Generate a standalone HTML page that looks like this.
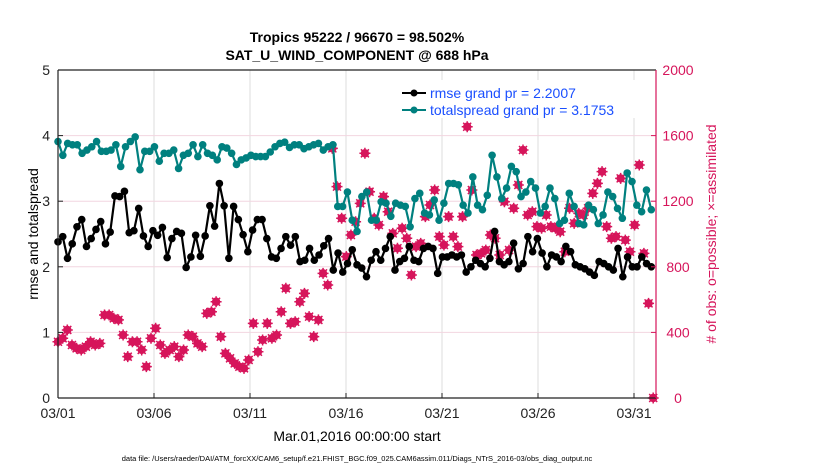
<!DOCTYPE html>
<html><head><meta charset="utf-8"><style>
body{margin:0;background:#fff;}
svg{font-family:"Liberation Sans",sans-serif;}
</style></head><body>
<svg id="chart" width="830" height="470" viewBox="0 0 830 470">
<g id="grid"></g>
<g id="marks"></g>
<g id="axes"></g>
<text x="357" y="42" text-anchor="middle" font-size="14" font-weight="bold">Tropics 95222 / 96670 = 98.502%</text>
<text x="357" y="60" text-anchor="middle" font-size="14" font-weight="bold">SAT_U_WIND_COMPONENT @ 688 hPa</text>
<text transform="translate(38,234) rotate(-90)" text-anchor="middle" font-size="14">rmse and totalspread</text>
<text transform="translate(716,234) rotate(-90)" text-anchor="middle" font-size="14" fill="#d6155b"># of obs: o=possible; ×=assimilated</text>
<text x="357" y="441" text-anchor="middle" font-size="14">Mar.01,2016 00:00:00 start</text>
<text x="357" y="461" text-anchor="middle" font-size="7.5">data file: /Users/raeder/DAI/ATM_forcXX/CAM6_setup/f.e21.FHIST_BGC.f09_025.CAM6assim.011/Diags_NTrS_2016-03/obs_diag_output.nc</text>
<g>
<rect x="392" y="80" width="256" height="38" fill="#fff"/>
<g><line x1="402" y1="93" x2="426" y2="93" stroke="#000" stroke-width="2"/><circle cx="414" cy="93" r="3.5" fill="#000"/><text x="430" y="98" font-size="14" fill="#1a4fff">rmse grand pr = 2.2007</text></g>
<g><line x1="402" y1="110" x2="426" y2="110" stroke="#00807f" stroke-width="2"/><circle cx="414" cy="110" r="3.5" fill="#00807f"/><text x="430" y="115" font-size="14" fill="#1a4fff">totalspread grand pr = 3.1753</text></g>
</g>
</svg>
<script>
const rmse=[2.38,2.46,2.13,2.35,2.61,2.72,2.31,2.43,2.57,2.69,2.35,2.53,3.08,3.07,3.15,2.52,2.55,2.89,2.47,2.31,2.55,2.48,2.60,2.14,2.43,2.54,2.51,1.99,2.15,2.48,2.16,2.47,2.93,2.62,3.27,2.93,2.13,2.92,2.72,2.49,2.23,2.56,2.72,2.72,
2.43,2.15,2.13,2.28,2.46,2.33,2.46,2.08,2.10,2.28,2.10,2.18,2.32,2.43,1.95,2.21,1.92,2.05,2.26,2.03,1.98,1.85,2.10,2.23,2.10,2.28,2.46,1.95,2.08,2.13,2.31,2.10,2.08,2.28,2.31,2.28,1.90,2.15,2.15,2.18,
2.15,2.18,1.92,2.00,2.10,2.05,2.00,2.13,2.54,2.08,2.03,2.08,2.36,1.97,2.05,2.46,2.23,2.43,2.21,2.00,2.18,2.15,2.08,2.31,2.23,2.03,2.00,1.97,1.92,1.87,2.08,2.05,2.00,1.95,2.28,1.85,2.15,2.00,2.00,2.15,2.05,2.00];
const spread=[3.91,3.70,3.88,3.86,3.86,3.73,3.78,3.83,3.91,3.76,3.76,3.78,3.86,3.53,3.83,3.91,3.98,3.48,3.76,3.76,3.83,3.61,3.73,3.73,3.78,3.50,3.70,3.73,3.86,3.68,3.86,3.73,3.70,3.63,3.83,3.81,3.73,3.56,3.63,3.66,3.70,3.68,3.68,3.68,
3.75,3.83,3.88,3.90,3.82,3.86,3.86,3.80,3.83,3.86,3.88,3.78,3.83,3.86,
2.92,2.92,3.14,2.71,2.54,3.07,3.14,2.71,2.71,2.99,2.97,2.77,2.97,2.94,2.92,2.61,3.04,3.12,2.82,2.79,3.02,2.71,2.97,3.27,
3.27,3.25,2.94,2.82,3.37,2.94,2.87,3.09,3.70,3.37,3.04,3.20,3.53,3.45,3.07,3.14,3.30,3.20,2.82,2.92,3.20,3.04,2.66,2.71,3.12,2.92,2.66,2.64,2.94,2.87,2.66,2.79,3.14,3.07,2.89,2.74,3.43,3.30,2.94,2.84,3.17,2.87];
const obs=[343,364,415,323,303,293,313,343,323,333,506,506,486,476,384,252,343,343,293,191,364,425,323,272,293,313,252,293,384,374,333,313,516,526,587,374,272,242,211,191,181,232,455,282,
354,455,364,384,526,669,455,465,587,638,496,374,476,760,689,1522,1289,1096,862,994,1075,1187,1492,1258,1096,1055,1228,1136,1004,913,1035,974,750,923,943,1106,1177,1268,984,933,1106,
984,923,1106,1654,1268,872,882,902,994,974,872,1197,902,1157,1299,1512,1116,1136,1045,1035,1116,1045,1035,1014,892,1157,1065,1126,1116,1157,1248,1309,1380,1045,974,984,1339,963,892,1055,1421,882,577,0];
const leftTicks=[0,1,2,3,4,5];
const rightTicks=[0,400,800,1200,1600,2000];
const dateLabels=["03/01","03/06","03/11","03/16","03/21","03/26","03/31"];
const dateDays=[0,5,10,15,20,25,30];

const X0=58,X1=656,Y0=398,Y1=70,PXDAY=19.2;
const xDay=d=>X0+d*PXDAY;
const yL=v=>Y0-(v/5)*(Y0-Y1);
const yR=v=>Y0-(v/2000)*(Y0-Y1);
const NS="http://www.w3.org/2000/svg";
function mk(tag,attrs,parent){const e=document.createElementNS(NS,tag);for(const k in attrs)e.setAttribute(k,attrs[k]);parent.appendChild(e);return e;}
const grid=document.getElementById('grid'),marks=document.getElementById('marks'),axes=document.getElementById('axes');

dateDays.forEach((d,i)=>{
  const gl=mk('line',{x1:xDay(d),x2:xDay(d),y1:Y1,y2:Y0,stroke:'#dcdcdc','stroke-width':1},grid);
  
  
  const t=mk('line',{x1:xDay(d),x2:xDay(d),y1:Y0,y2:Y0-5,stroke:'#222'},axes);
  
  
  const l=mk('text',{x:xDay(d),y:Y0+20,'text-anchor':'middle','font-size':14,fill:'#222'},axes);
  l.textContent=dateLabels[i];
  
  
});
leftTicks.forEach(v=>{
  if(v>0&&v<5){const gl=mk('line',{x1:X0,x2:X1,y1:yL(v),y2:yL(v),stroke:'#f2d6e0','stroke-width':1},grid);
  
  }
  const t=mk('line',{x1:X0,x2:X0+5,y1:yL(v),y2:yL(v),stroke:'#222'},axes);
  
  
  const l=mk('text',{x:X0-8,y:yL(v)+5,'text-anchor':'end','font-size':14,fill:'#222'},axes);
  l.textContent=v;
  
  
});
rightTicks.forEach(v=>{
  const t=mk('line',{x1:X1-5,x2:X1,y1:yR(v),y2:yR(v),stroke:'#d6155b'},axes);
  
  
  const l=mk('text',{x:X1+22,y:yR(v)+5,'text-anchor':'middle','font-size':14,fill:'#d6155b'},axes);
  l.textContent=v;
  
  
});
let a=mk('line',{x1:X0,x2:X0,y1:Y1,y2:Y0,stroke:'#222','stroke-width':1.2},axes);


a=mk('line',{x1:X0,x2:X1,y1:Y0,y2:Y0,stroke:'#222','stroke-width':1.2},axes);


a=mk('line',{x1:X0,x2:X1,y1:Y1,y2:Y1,stroke:'#222','stroke-width':1.2},axes);


a=mk('line',{x1:X1,x2:X1,y1:Y1,y2:Y0,stroke:'#d6155b','stroke-width':1.2},axes);



const obsStep=31/(obs.length-1);
obs.forEach((v,i)=>{
  const cx=xDay(i*obsStep),cy=yR(v);
  const g=mk('g',{},marks);
  
  
  mk('circle',{cx:cx,cy:cy,r:4.2,fill:'#d6155b'},g);
  mk('path',{d:`M${cx-5.5},${cy}H${cx+5.5}M${cx},${cy-5.5}V${cy+5.5}M${cx-4},${cy-4}L${cx+4},${cy+4}M${cx-4},${cy+4}L${cx+4},${cy-4}`,stroke:'#d6155b','stroke-width':1.5},g);
});
function series(vals,color,name){
  const step=30.9/(vals.length-1);
  const pts=vals.map((v,i)=>[xDay(i*step),yL(v)]);
  const p=mk('polyline',{points:pts.map(q=>q.join(',')).join(' '),fill:'none',stroke:color,'stroke-width':2.2,'stroke-linejoin':'round'},marks);
  
  
  pts.forEach(q=>{
    const c=mk('circle',{cx:q[0],cy:q[1],r:3.8,fill:color},marks);
    
    
  });
}
series(spread,'#00807f','totalspread');
series(rmse,'#000','rmse');
</script>
</body></html>
